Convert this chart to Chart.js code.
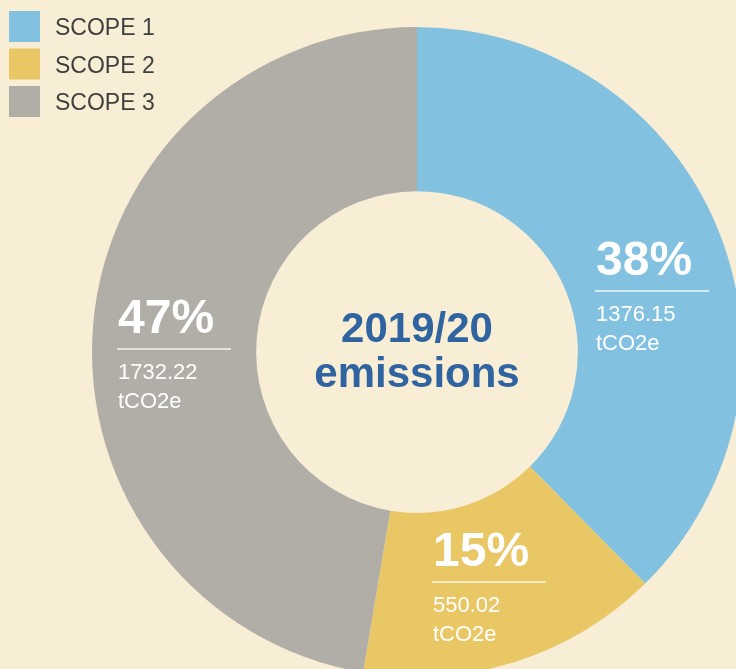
<!DOCTYPE html>
<html>
<head>
<meta charset="utf-8">
<script src="https://cdn.jsdelivr.net/npm/chart.js@4/dist/chart.umd.min.js"></script>
<style>
  html, body { margin: 0; padding: 0; background: #F8EDD5; overflow: hidden; width: 736px; height: 669px; }
  #wrap { position: absolute; left: 0; top: 0; width: 760px; height: 700px; }
</style>
</head>
<body>
<div id="wrap"><canvas id="emissionsChart" width="760" height="700"></canvas></div>
<script>
var scopeLabels = ['SCOPE 1', 'SCOPE 2', 'SCOPE 3'];
var scopeValues = [1376.15, 550.02, 1732.22];
var scopeUnit = 'tCO2e';
var centerLines = ['2019/20', 'emissions'];
var scopeColors = ['#82C2E0', '#E8C764', '#B1AEA7'];

var FONT = '"Liberation Sans", Arial, Helvetica, sans-serif';

// where each value block sits, relative to the doughnut centre
var labelOffsets = [
  { dx: 179, dy: -77 },
  { dx: 16, dy: 214 },
  { dx: -299, dy: -19 }
];

var emissionsChart = new Chart(document.getElementById('emissionsChart'), {
    type: 'doughnut',
    data: {
        labels: scopeLabels,
        datasets: [{
            data: scopeValues,
            backgroundColor: scopeColors,
            borderWidth: 0,
            hoverOffset: 0
        }]
    },
    options: {
        animation: false,
        responsive: false,
        cutout: '49.5%',
        layout: {
            padding: { left: 92, top: 27, right: 18, bottom: 23 }
        },
        plugins: {
            legend: { display: false },
            tooltip: { enabled: false }
        }
    },
    plugins: [{
        id: 'scopeDecor',
        afterDraw: function (chart) {
            var ctx = chart.ctx;
            var arc = chart.getDatasetMeta(0).data[0];
            var cx = arc.x, cy = arc.y;
            var total = scopeValues.reduce(function (a, b) { return a + b; }, 0);

            ctx.save();
            // legend
            ctx.textBaseline = 'alphabetic';
            ctx.textAlign = 'left';
            ctx.font = '23px ' + FONT;
            scopeLabels.forEach(function (lab, i) {
                var y = 11 + i * 37.5;
                ctx.fillStyle = scopeColors[i];
                ctx.fillRect(9, y, 31, 31);
                ctx.fillStyle = '#3F3F3F';
                ctx.fillText(lab, 55, y + 24);
            });

            // value blocks
            scopeValues.forEach(function (v, i) {
                var x = cx + labelOffsets[i].dx;
                var y = cy + labelOffsets[i].dy;
                ctx.fillStyle = '#FFFFFF';
                ctx.font = 'bold 48px ' + FONT;
                ctx.fillText(Math.round(v / total * 100) + '%', x, y);
                ctx.strokeStyle = 'rgba(255,255,255,0.85)';
                ctx.lineWidth = 1.5;
                ctx.beginPath();
                ctx.moveTo(x - 1, y + 16);
                ctx.lineTo(x + 113, y + 16);
                ctx.stroke();
                ctx.font = '22px ' + FONT;
                ctx.fillText(v.toFixed(2), x, y + 46);
                ctx.fillText(scopeUnit, x, y + 75);
            });

            // centre text
            ctx.textAlign = 'center';
            ctx.fillStyle = '#2F64A0';
            ctx.font = 'bold 42px ' + FONT;
            ctx.fillText(centerLines[0], cx, cy - 10);
            ctx.fillText(centerLines[1], cx, cy + 35);
            ctx.restore();
        }
    }]
});
</script>
</body>
</html>
